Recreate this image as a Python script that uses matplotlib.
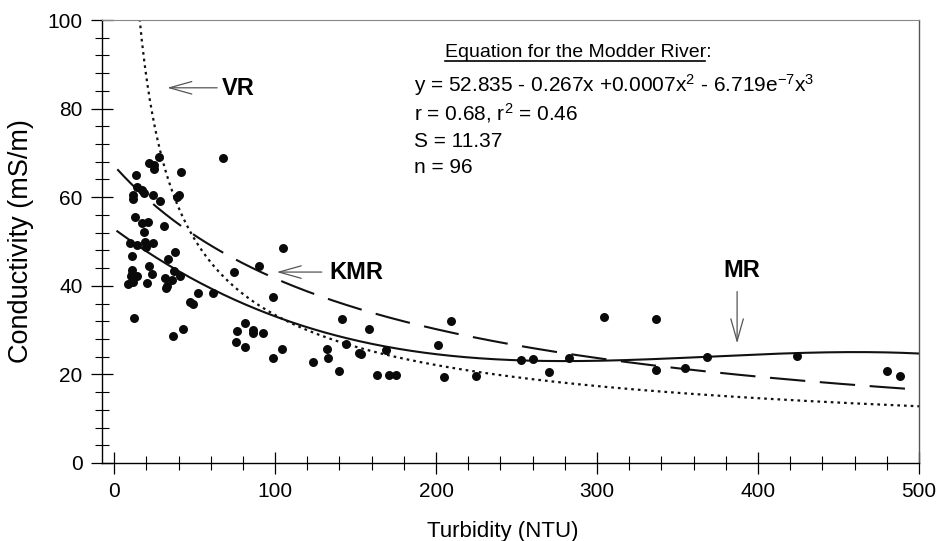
import numpy as np
import matplotlib
matplotlib.use("Agg")
import matplotlib.pyplot as plt
from matplotlib.ticker import MultipleLocator

plt.rcParams["font.family"] = ["Liberation Sans", "DejaVu Sans"]
plt.rcParams["mathtext.fontset"] = "custom"
plt.rcParams["mathtext.rm"] = "Liberation Sans"

turbidity = [21.5, 25, 25, 28, 41.6, 67.5, 13.5, 14.1, 17.2, 18.8, 12, 12, 24.4, 28.6,
             38.9, 40.4, 13, 17.2, 20.9, 18.8, 31.2, 9.9, 14.1, 19.3, 19.7, 24.4, 11.3,
             37.9, 33.3, 21.7, 11.3, 11.3, 14.1, 10.4, 8.9, 11.6, 23.4, 20.5, 31.7, 33.1,
             36.2, 37.3, 41.0, 51.9, 47.2, 49.3, 61.7, 12.6, 36.8, 42.7, 74.7, 90, 104.8,
             98.6, 76.6, 81.4, 75.6, 81.4, 86.5, 86.1, 92.3, 104.5, 99, 123.3, 132.5, 133.1,
             140, 141.4, 144.3, 152.4, 153.5, 158.3, 163.2, 168.9, 170.8, 175.2, 201, 205.1,
             209.1, 224.7, 252.7, 260.5, 270.4, 282.6, 304.5, 336.6, 336.6, 354.7, 368.3,
             424.2, 480.3, 488.2, 32.5]
conductivity = [67.7, 67.3, 66.3, 69.1, 65.8, 68.8, 64.9, 62.4, 61.6, 61.0, 60.5, 59.6,
                60.6, 59.1, 60.1, 60.5, 55.5, 54.1, 54.5, 52.2, 53.5, 49.6, 49.2, 50.0, 48.8,
                49.6, 46.8, 47.6, 46.0, 44.5, 43.6, 42.6, 42.2, 42.2, 40.4, 40.9, 42.7, 40.6,
                41.7, 40.0, 41.2, 43.3, 42.1, 38.3, 36.4, 36.0, 38.3, 32.7, 28.7, 30.2, 43.2,
                44.5, 48.6, 37.4, 29.9, 31.5, 27.2, 26.1, 30.1, 29.4, 29.4, 25.8, 23.6, 22.9,
                25.8, 23.8, 20.8, 32.4, 26.8, 24.8, 24.5, 30.2, 19.8, 25.5, 19.9, 19.9, 26.7,
                19.3, 32.0, 19.6, 23.3, 23.4, 20.6, 23.8, 32.9, 32.5, 21.0, 21.4, 23.9, 24.2,
                20.8, 19.6, 39.4]

# fitted curves
mr_coef = [52.835, -0.267, 0.000766, -6.89e-7]      # cubic, Modder River
kmr_coef = [0.0149, 0.0000910]                       # y = 1/(a + b x)
vr_coef = [520.0, -0.596]                            # y = a x^b

eq_lines = ["y = 52.835 - 0.267x +0.0007x$\\mathregular{^2}$ - 6.719e$\\mathregular{^{-7}}$x$\\mathregular{^3}$",
            "r = 0.68, r$\\mathregular{^2}$ = 0.46",
            "S = 11.37",
            "n = 96"]

fig = plt.figure(figsize=(9.37, 5.41), dpi=100)
ax = fig.add_axes([0.1089, 0.1442, 0.8719, 0.8188])

xs = np.linspace(2, 500, 500)
mr = mr_coef[0] + mr_coef[1] * xs + mr_coef[2] * xs**2 + mr_coef[3] * xs**3
kmr = 1.0 / (kmr_coef[0] + kmr_coef[1] * xs)
xv = np.linspace(14, 500, 600)
vr = vr_coef[0] * xv**vr_coef[1]

ax.plot(xs, mr, color="#111111", lw=1.5)
ax.plot(xs, kmr, color="#111111", lw=1.5, linestyle=(0, (17, 7)))
ax.plot(xv, vr, color="#111111", lw=1.6, linestyle=(0, (1.2, 1.8)))
ax.scatter(turbidity, conductivity, s=42, color="#0a0a0a", zorder=3, linewidths=0)

ax.set_xlim(-7.5, 500)
ax.set_ylim(0, 100)
ax.xaxis.set_major_locator(MultipleLocator(100))
ax.xaxis.set_minor_locator(MultipleLocator(20))
ax.yaxis.set_major_locator(MultipleLocator(20))
ax.yaxis.set_minor_locator(MultipleLocator(4))
ax.tick_params(which="major", direction="inout", length=16, width=0.9, pad=6, labelsize=15)
ax.tick_params(which="minor", direction="inout", length=10, width=0.8)
for s in ["left", "bottom", "right"]:
    ax.spines[s].set_linewidth(1.0)
ax.spines["top"].set_color("#888888")
ax.spines["right"].set_color("#555555")

ax.set_xlabel("Turbidity (NTU)", fontsize=16)
ax.set_ylabel("Conductivity (mS/m)", fontsize=19.5)
ax.xaxis.set_label_coords(0.49, -0.131)
ax.yaxis.set_label_coords(-0.083, 0.5)

# equation block
ax.text(205.6, 91.7, "Equation for the Modder River:", fontsize=14, va="baseline")
ax.plot([0.42, 0.738], [0.908, 0.908], transform=ax.transAxes, color="black", lw=1.2)
for txt, yy in zip(eq_lines, [83.7, 77.4, 71.3, 65.4]):
    ax.text(186.3, yy, txt, fontsize=15, va="baseline")

# curve labels with arrows
arrow = dict(arrowstyle="->,head_length=1.6,head_width=0.45", color="#555555", lw=0.9,
             mutation_scale=10, shrinkA=0, shrinkB=0)
ax.annotate("", xy=(33, 84.7), xytext=(64, 84.7), arrowprops=arrow)
ax.text(67, 84.6, "VR", fontsize=17, fontweight="bold", va="center")
ax.annotate("", xy=(101, 43.1), xytext=(129, 43.1), arrowprops=arrow)
ax.text(134, 42.9, "KMR", fontsize=17, fontweight="bold", va="center")
ax.annotate("", xy=(387, 27), xytext=(387, 38.7), arrowprops=arrow)
ax.text(390, 43.5, "MR", fontsize=17, fontweight="bold", ha="center", va="center")

fig.savefig("out.png", dpi=100)
